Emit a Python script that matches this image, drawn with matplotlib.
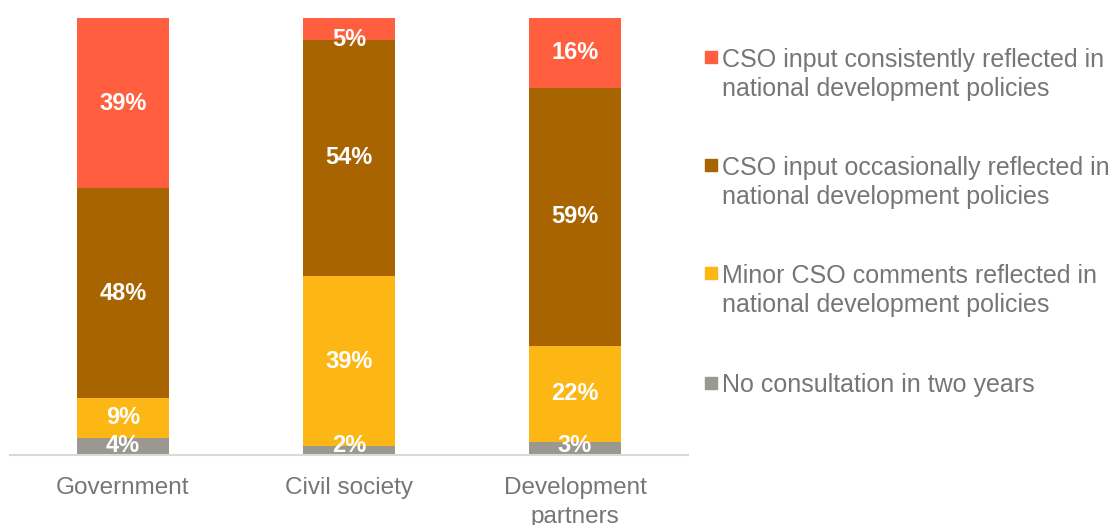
import numpy as np
import matplotlib.pyplot as plt
from matplotlib.patches import Rectangle

plt.rcParams['font.family'] = ['Liberation Sans', 'DejaVu Sans']

#%% Data
groups = ["Government", "Civil society", "Development\npartners"]
series = [
    "No consultation in two years",
    "Minor CSO comments reflected in\nnational development policies",
    "CSO input occasionally reflected in\nnational development policies",
    "CSO input consistently reflected in\nnational development policies",
]
no_consult = [4, 2, 3]
minor = [9, 39, 22]
occasional = [48, 54, 59]
consistent = [39, 5, 16]

colors = ["#9B9892", "#FDB714", "#A86400", "#FF5E3F"]
text_grey = "#767676"

#%% Plot
fig = plt.figure(figsize=(11.12, 5.25), dpi=100)
ax = fig.add_axes([10/1112, 70/525, 678/1112, 437/525])

x = np.arange(len(groups))
bottom = np.zeros(len(groups))
for vals, col in zip([no_consult, minor, occasional, consistent], colors):
    vals = np.array(vals, dtype=float)
    ax.bar(x, vals, bottom=bottom, width=0.405, color=col, zorder=2)
    for xi, b, v in zip(x, bottom, vals):
        yc = min(max(b + v/2, 2.2), 95)
        ax.text(xi, yc, f"{int(v)}%", ha='center', va='center',
                color='white', fontsize=17, fontweight='bold', zorder=3)
    bottom += vals

ax.set_xlim(-0.5, 2.5)
ax.set_ylim(0, 100)
ax.set_yticks([])
ax.set_xticks(x)
ax.set_xticklabels(groups, fontsize=17.5, color=text_grey, linespacing=1.4)
ax.tick_params(axis='x', length=0, pad=16)
for s in ['top', 'left', 'right']:
    ax.spines[s].set_visible(False)
ax.spines['bottom'].set_color('#D9D9D9')
ax.spines['bottom'].set_linewidth(1.5)
ax.spines['bottom'].set_zorder(4)

# legend, drawn by hand so the square sits on the first line
line_gap = 30
baselines = [66, 174, 282, 392]
for lab, col, yb in zip(series[::-1], colors[::-1], baselines):
    nlines = lab.count("\n") + 1
    fig.patches.append(Rectangle((705/1112, 1 - (yb - 3)/525), 12/1112, 12/525,
                                 transform=fig.transFigure, color=col))
    fig.text(722/1112, 1 - (yb + line_gap*(nlines - 1))/525, lab, fontsize=18,
             color=text_grey, va='baseline', ha='left', linespacing=1.25)

fig.savefig("out.png", dpi=100)
